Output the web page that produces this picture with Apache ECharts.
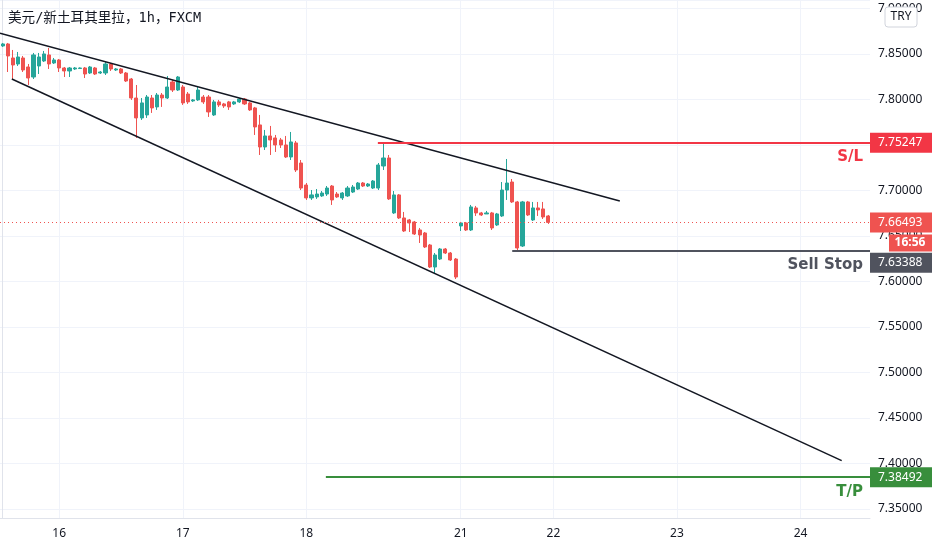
<!DOCTYPE html>
<html>
<head>
<meta charset="utf-8">
<script src="https://cdn.jsdelivr.net/npm/echarts@6/dist/echarts.min.js"></script>
<style>html,body{margin:0;padding:0;background:#fff}#main{width:932px;height:550px}</style>
</head>
<body>
<div id="main"></div>
<script>
// USD/TRY 1h candles
var opens = [7.8588,7.8610,7.8456,7.8390,7.8456,7.8357,7.8247,7.8368,7.8423,7.8489,
7.8401,7.8434,7.8346,7.8313,7.8335,7.8340,7.8346,7.8291,7.8346,7.8291,
7.8291,7.8390,7.8324,7.8335,7.8291,7.8225,7.8016,7.7797,7.7830,7.8016,
7.7918,7.8049,7.8016,7.8192,7.8104,7.8137,7.8060,7.7984,7.7995,7.8027,
7.8027,7.7830,7.7973,7.7951,7.7973,7.7951,7.7973,7.8005,7.7962,7.7907,
7.7720,7.7478,7.7599,7.7577,7.7555,7.7500,7.7368,7.7522,7.7302,7.7060,
7.6918,7.6929,7.6940,7.6961,7.7049,7.6961,7.6918,7.6940,7.6983,7.7016,
7.7082,7.7049,7.7027,7.7027,7.7269,7.7357,7.6753,7.6951,7.6698,7.6676,
7.6654,7.6566,7.6533,7.6401,7.6159,7.6247,7.6357,7.6313,7.6247,7.6610,
7.6643,7.6566,7.6808,7.6753,7.6742,7.6753,7.6621,7.6720,7.7005,7.7093,
7.6874,7.6390,7.6874,7.6676,7.6808,7.6797,7.6720];
var closes = [7.8610,7.8478,7.8379,7.8467,7.8324,7.8236,7.8489,7.8467,7.8500,7.8390,
7.8434,7.8346,7.8313,7.8346,7.8346,7.8346,7.8280,7.8357,7.8280,7.8302,
7.8390,7.8335,7.8335,7.8291,7.8203,7.8016,7.7797,7.7962,7.8027,7.7907,
7.8049,7.8016,7.8137,7.8104,7.8247,7.7962,7.7973,7.7995,7.8104,7.7973,
7.7863,7.7973,7.7940,7.7929,7.7918,7.7973,7.8005,7.7951,7.7885,7.7698,
7.7478,7.7599,7.7555,7.7500,7.7500,7.7368,7.7533,7.7225,7.7027,7.6918,
7.6951,7.6961,7.6972,7.7027,7.6896,7.6929,7.6972,7.7027,7.7038,7.7082,
7.7049,7.7071,7.7104,7.7280,7.7357,7.6907,7.6951,7.6698,7.6555,7.6643,
7.6522,7.6511,7.6379,7.6159,7.6291,7.6357,7.6313,7.6236,7.6049,7.6643,
7.6566,7.6819,7.6753,7.6731,7.6753,7.6588,7.6742,7.7005,7.7082,7.6874,
7.6368,7.6874,7.6731,7.6808,7.6786,7.6709,7.66493];
var lows = [7.8577,7.8302,7.8225,7.8368,7.8302,7.8159,7.8225,7.8280,7.8412,7.8335,
7.8390,7.8302,7.8247,7.8247,7.8324,7.8335,7.8236,7.8280,7.8269,7.8280,
7.8269,7.8313,7.8313,7.8280,7.8192,7.7995,7.7577,7.7775,7.7797,7.7852,
7.7885,7.7918,7.8005,7.8082,7.8093,7.7940,7.7951,7.7973,7.7984,7.7951,
7.7808,7.7819,7.7918,7.7907,7.7885,7.7940,7.7962,7.7940,7.7874,7.7610,
7.7390,7.7445,7.7390,7.7423,7.7467,7.7357,7.7335,7.7203,7.7005,7.6896,
7.6896,7.6907,7.6929,7.6940,7.6841,7.6918,7.6896,7.6929,7.6972,7.7005,
7.7038,7.7038,7.7016,7.7005,7.7225,7.6896,7.6742,7.6687,7.6544,7.6544,
7.6511,7.6423,7.6368,7.6148,7.6093,7.6236,7.6302,7.6225,7.6027,7.6555,
7.6555,7.6555,7.6720,7.6720,7.6742,7.6566,7.6610,7.6709,7.6896,7.6863,
7.6346,7.6379,7.6720,7.6665,7.6720,7.6687,7.6632];
var highs = [7.8621,7.8621,7.8544,7.8522,7.8478,7.8390,7.8511,7.8511,7.8533,7.8566,
7.8456,7.8445,7.8357,7.8357,7.8357,7.8352,7.8357,7.8368,7.8357,7.8313,
7.8412,7.8401,7.8346,7.8346,7.8302,7.8236,7.8159,7.8016,7.8049,7.8049,
7.8071,7.8071,7.8258,7.8214,7.8258,7.8159,7.8082,7.8005,7.8148,7.8049,
7.8049,7.7995,7.7995,7.7962,7.7984,7.7984,7.8016,7.8016,7.7973,7.7918,
7.7830,7.7665,7.7709,7.7610,7.7577,7.7599,7.7643,7.7544,7.7335,7.7082,
7.7005,7.7016,7.6994,7.7049,7.7060,7.6983,7.6983,7.7049,7.7060,7.7093,
7.7093,7.7082,7.7115,7.7302,7.7516,7.7390,7.6994,7.6961,7.6764,7.6687,
7.6665,7.6588,7.6544,7.6412,7.6313,7.6368,7.6368,7.6324,7.6258,7.6654,
7.6654,7.6841,7.6830,7.6764,7.6775,7.6764,7.6753,7.7093,7.7346,7.7126,
7.6885,7.6885,7.6885,7.6874,7.6874,7.6874,7.6731];

// hourly slots on the time axis (candles + empty future), and where day labels sit
var slotCount = 169;
var dayIndex = [11, 35, 59, 89, 107, 131, 155];
var dayText = ['16', '17', '18', '21', '22', '23', '24'];

// drawn trend lines: [slot, price]
var upperTrend = [[-0.5, 7.8727], [119.9, 7.6885]];
var lowerTrend = [[1.8, 7.8225], [163.0, 7.4031]];

// order levels
var stopLoss = 7.75247, sellStop = 7.63388, takeProfit = 7.38492, lastPrice = 7.66493;
var slStart = 72.9, ssStart = 99, tpStart = 62.8;
var countdown = '16:56';

var slots = [];
for (var i = 0; i < slotCount; i++) {
    var k = dayIndex.indexOf(i);
    slots.push(k >= 0 ? dayText[k] : '');
}
var candles = opens.map(function (o, i) { return [o, closes[i], lows[i], highs[i]]; });
var isDay = function (i) { return dayIndex.indexOf(i) >= 0; };
var endSlot = slotCount - 0.5;

var red = '#f23645', green = '#388e3c', gray = '#50535e', lastRed = '#ef5350';

function levelLine(start, price, color, name) {
    return [[
        {coord: [start, price], lineStyle: {color: color, width: 2, type: 'solid'},
         label: {show: true, position: 'insideEndBottom', formatter: name, color: color,
                 fontWeight: 'bold', fontSize: 15, fontFamily: 'DejaVu Sans', distance: 7}},
        {coord: [endSlot, price]}
    ]];
}

var myChart = echarts.init(document.getElementById('main'));
var option = {
    animation: false,
    backgroundColor: '#ffffff',
    grid: {left: 0, right: 62, top: 0, bottom: 32},
    xAxis: [{
        type: 'category',
        data: slots,
        boundaryGap: true,
        axisLine: {lineStyle: {color: '#e0e3eb'}},
        axisTick: {show: false},
        axisLabel: {interval: function (i) { return isDay(i); }, color: '#131722',
                    fontSize: 12, margin: 10, fontFamily: 'Noto Sans'},
        splitLine: {show: true, alignWithLabel: true, interval: function (i) { return isDay(i); },
                    lineStyle: {color: '#f0f3fa'}}
    }, {
        type: 'value', min: -0.5, max: endSlot, show: false
    }],
    yAxis: {
        type: 'value',
        position: 'right',
        min: 7.3401,
        max: 7.9093,
        splitNumber: 10,
        axisLine: {show: true, lineStyle: {color: '#e0e3eb'}},
        axisTick: {show: false},
        axisLabel: {showMinLabel: false, showMaxLabel: false, color: '#131722', fontSize: 12,
                    margin: 8, fontFamily: 'Noto Sans',
                    formatter: function (v) { return v.toFixed(5); }},
        splitLine: {lineStyle: {color: '#f0f3fa'}}
    },
    series: [{
        type: 'candlestick',
        data: candles,
        barWidth: '70%',
        itemStyle: {color: '#26a69a', color0: '#ef5350', borderColor: '#26a69a',
                    borderColor0: '#ef5350', borderWidth: 1}
    }, {
        type: 'line', xAxisIndex: 1, data: upperTrend, showSymbol: false, silent: true,
        lineStyle: {color: '#131722', width: 1.5},
        markLine: {
            silent: true, symbol: ['none', 'none'], animation: false,
            data: [[
                {coord: [-0.5, lastPrice], lineStyle: {color: lastRed, width: 1, type: [1, 3]},
                 label: {show: false}},
                {coord: [endSlot, lastPrice]}
            ]].concat(
                levelLine(slStart, stopLoss, red, 'S/L'),
                levelLine(ssStart, sellStop, gray, 'Sell Stop'),
                levelLine(tpStart, takeProfit, green, 'T/P')
            )
        }
    }, {
        type: 'line', xAxisIndex: 1, data: lowerTrend, showSymbol: false, silent: true,
        lineStyle: {color: '#131722', width: 1.5}
    }]
};
myChart.setOption(option);

// price badges on the right scale
var axisX = myChart.getWidth() - 62;
function badge(price, color, dy) {
    var y = myChart.convertToPixel({yAxisIndex: 0}, price) + dy;
    return {type: 'group', children: [
        {type: 'rect', z: 100, shape: {x: axisX, y: y - 10, width: 62, height: 20}, style: {fill: color}},
        {type: 'text', z: 101, x: axisX + 8, y: y, style: {text: price.toFixed(5), fill: '#ffffff',
            font: '12px "Noto Sans"', verticalAlign: 'middle', align: 'left'}}
    ]};
}
var lastY = myChart.convertToPixel({yAxisIndex: 0}, lastPrice);
myChart.setOption({graphic: [
    {type: 'text', left: 8, top: 12, z: 100,
     style: {text: '美元/新土耳其里拉，1h，FXCM', fill: '#131722',
             font: '13.6px "DejaVu Sans Mono", "Noto Sans CJK SC"'}},
    {type: 'group', children: [
        {type: 'rect', z: 100, shape: {x: 885, y: 7, width: 32, height: 20, r: 3},
         style: {fill: '#ffffff', stroke: '#d1d4dc', lineWidth: 1}},
        {type: 'text', z: 101, x: 901, y: 17, style: {text: 'TRY', fill: '#131722',
            font: '12px "Noto Sans"', align: 'center', verticalAlign: 'middle'}}
    ]},
    badge(stopLoss, red, 0),
    badge(sellStop, gray, 12),
    badge(takeProfit, green, 0),
    {type: 'group', children: [
        {type: 'rect', z: 102, shape: {x: axisX + 19, y: lastY + 12, width: 43, height: 17},
         style: {fill: lastRed}},
        {type: 'text', z: 103, x: axisX + 40, y: lastY + 20.5, style: {text: countdown, fill: '#ffffff',
            font: 'bold 12px "Noto Sans"', align: 'center', verticalAlign: 'middle'}}
    ]},
    badge(lastPrice, lastRed, 0)
]});
</script>
</body>
</html>
